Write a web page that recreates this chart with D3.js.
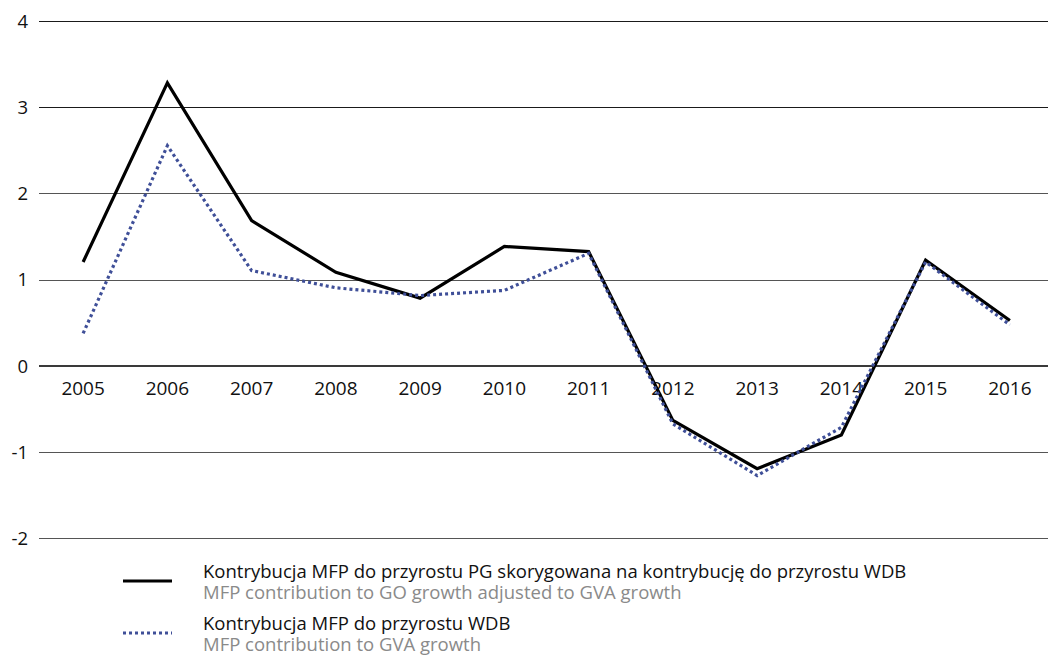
<!DOCTYPE html>
<html><head><meta charset="utf-8">
<script src="https://cdn.jsdelivr.net/npm/d3@7"></script>
<style>
html,body{margin:0;padding:0;background:#fff;}
svg{display:block;font-family:"Open Sans","DejaVu Sans",sans-serif;}
</style></head>
<body>
<svg id="chart" width="1048" height="656"></svg>
<script>
const years = ["2005","2006","2007","2008","2009","2010","2011","2012","2013","2014","2015","2016"];
const seriesAdjusted = [1.21, 3.29, 1.69, 1.09, 0.79, 1.39, 1.33, -0.63, -1.19, -0.80, 1.23, 0.53];
const seriesGVA = [0.38, 2.56, 1.11, 0.91, 0.82, 0.88, 1.31, -0.67, -1.27, -0.71, 1.21, 0.48];
const yTicks = [-2, -1, 0, 1, 2, 3, 4];
const yTickLabels = ["-2", "-1", "0", "1", "2", "3", "4"];
const legendLabels = [
  ["Kontrybucja MFP do przyrostu PG skorygowana na kontrybucję do przyrostu WDB", "MFP contribution to GO growth adjusted to GVA growth"],
  ["Kontrybucja MFP do przyrostu WDB", "MFP contribution to GVA growth"]
];

const svg = d3.select("#chart");
const x = d3.scaleBand().domain(years).range([41, 1052]);
const y = d3.scaleLinear().domain([-2, 4]).range([538.4, 21.7]);
const gridLeft = 39, gridRight = 1048;

// gridlines
svg.append("g").selectAll("line").data(yTicks).join("line")
  .attr("x1", gridLeft).attr("x2", gridRight)
  .attr("y1", d => y(d)).attr("y2", d => y(d))
  .attr("stroke", d => d === 0 ? "#3a3a3a" : (d >= 3 ? "#1a1a1a" : "#555"))
  .attr("stroke-width", d => d === 0 ? 2 : 1.1)
  .attr("shape-rendering", "crispEdges");

// y axis labels
const yAxis = d3.axisLeft(y).tickValues(yTicks).tickSize(0).tickPadding(0)
  .tickFormat(d => yTickLabels[yTicks.indexOf(d)]);
const ya = svg.append("g").attr("transform", "translate(28,0)").call(yAxis);
ya.select(".domain").remove();
ya.selectAll("text").attr("font-size", 18.5).attr("fill", "#111")
  .attr("font-family", "'Open Sans', sans-serif");

// x axis labels
const xAxis = d3.axisBottom(x).tickSize(0).tickPadding(0);
const xa = svg.append("g").attr("transform", `translate(0,${y(0) + 15})`).call(xAxis);
xa.select(".domain").remove();
xa.selectAll("text").attr("font-size", 19).attr("fill", "#111")
  .attr("font-family", "'Open Sans', sans-serif");

const line = d3.line().x((d, i) => x(years[i]) + x.bandwidth() / 2).y(d => y(d));

svg.append("path").datum(seriesAdjusted)
  .attr("d", line).attr("fill", "none")
  .attr("stroke", "#000").attr("stroke-width", 3.2).attr("stroke-linejoin", "miter");

svg.append("path").datum(seriesGVA)
  .attr("d", line).attr("fill", "none")
  .attr("stroke", "#3f4f98").attr("stroke-width", 3.2)
  .attr("stroke-dasharray", "3,3");

// legend
const lg = svg.append("g");
const legendRows = [{y: 581, dash: null, color: "#000"}, {y: 633, dash: "3,3", color: "#3f4f98"}];
legendRows.forEach((r, i) => {
  lg.append("line").attr("x1", 123).attr("x2", 172).attr("y1", r.y).attr("y2", r.y)
    .attr("stroke", r.color).attr("stroke-width", 3.2)
    .attr("stroke-dasharray", r.dash);
  lg.append("text").attr("x", 203).attr("y", r.y - 3)
    .attr("font-size", 18.5).attr("fill", "#111").text(legendLabels[i][0]);
  lg.append("text").attr("x", 203).attr("y", r.y + 18)
    .attr("font-size", 18.5).attr("fill", "#8a8a8a").text(legendLabels[i][1]);
});
</script>
</body></html>
